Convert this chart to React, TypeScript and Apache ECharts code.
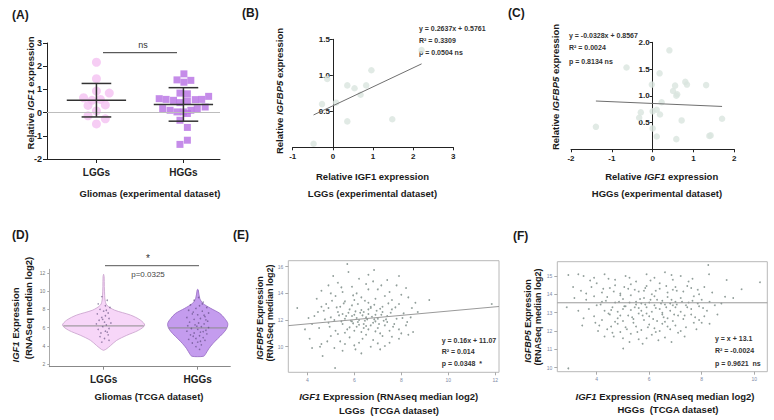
import React, { useEffect, useRef } from 'react';
import * as echarts from 'echarts';

const FONT = '"Liberation Sans", Arial, Helvetica, sans-serif';

// ---------- Panel A: Relative IGF1 expression (experimental dataset) ----------
const groupsA = ['LGGs', 'HGGs'];
const posA = [1, 2.76];
// [horizontal jitter, value]
const lggA: number[][] = [
  [0, 2.17], [0, 1.46], [0, 0.93], [0.26, 0.84], [-0.26, 0.64], [-0.09, 0.53], [0.08, 0.57],
  [-0.17, 0.31], [0.18, 0.33], [0, 0.07], [-0.17, -0.14], [0.18, -0.27], [0, -0.49],
];
const hggA: number[][] = [
  [0.01, 1.67], [-0.13, 1.41], [0.01, 1.31], [0.15, 1.39], [-0.07, 0.84], [0.08, 0.81],
  [-0.49, 0.6], [-0.35, 0.57], [-0.2, 0.53], [-0.07, 0.43], [0.08, 0.5], [0.24, 0.56],
  [0.37, 0.57], [0.51, 0.7], [-0.42, 0.17], [-0.27, 0.1], [-0.13, 0.03], [0, 0.03],
  [0.15, 0.1], [0.28, 0.17], [0.44, 0.24], [-0.07, -0.33], [0.08, -0.04], [0.08, -0.64],
  [0.08, -1.19], [-0.07, -1.37],
];

// ---------- Panel B: LGGs IGF1 vs IGFBP5 ----------
const bPoints: number[][] = [
  [2.21, 1.35], [0.96, 1.07], [-0.14, 0.95], [0.36, 0.86], [0.54, 0.82], [0.83, 0.86],
  [0.69, 0.73], [-0.27, 0.6], [0.08, 0.62], [0.36, 0.36], [1.48, 0.39], [-0.48, 0.05],
];
const bFit = [0.2637, 0.5761];
const bStats = ['y = 0.2637x + 0.5761', 'R² = 0.3309', 'p = 0.0504 ns'];
const bXRange = [-1, 3];

// ---------- Panel C: HGGs IGF1 vs IGFBP5 ----------
const cPoints: number[][] = [
  [0.41, 1.85], [-0.64, 1.53], [0.17, 1.42], [-0.02, 1.21], [0.55, 1.19], [0.8, 1.26],
  [0.84, 1.21], [1.31, 1.2], [0.5, 1.09], [0.6, 1.03], [0.58, 1.0], [0.22, 0.88],
  [0.1, 0.74], [0, 0.71], [-0.29, 0.69], [0.18, 0.65], [-0.33, 0.59], [0.71, 0.54],
  [1.7, 0.57], [-1.39, 0.42], [0, 0.39], [1.42, 0.26], [1.39, 0.25], [0.1, 0.24], [0.58, 0.19],
];
const cFit = [-0.0328, 0.8567];
const cStats = ['y = -0.0328x + 0.8567', 'R² = 0.0024', 'p = 0.8134 ns'];
const cXRange = [-2, 2];

// ---------- Panel D: violins (TCGA) ----------
const groupsD = ['LGGs', 'HGGs'];
const posD = [3, 8.2];
const medianD = [6.18, 5.96];
// [value, half width in x units]
const lggProfile: number[][] = [
  [11.85, 0], [11.6, 0.03], [10.5, 0.04], [9.5, 0.06], [9.03, 0.08], [8.48, 0.17], [7.92, 0.6],
  [7.37, 1.49], [6.81, 2.04], [6.26, 2.27], [5.7, 1.93], [5.14, 1.27], [4.59, 0.72],
  [4.03, 0.39], [3.6, 0.12], [3.5, 0],
];
const hggProfile: number[][] = [
  [10.2, 0], [10.14, 0.03], [9.22, 0.11], [8.67, 0.28], [8.11, 0.72], [7.56, 1.22], [7.0, 1.49],
  [6.44, 1.66], [5.89, 1.6], [5.33, 1.38], [4.78, 1.1], [4.22, 0.83], [3.67, 0.61],
  [3.11, 0.44], [2.85, 0.33], [2.8, 0],
];
const lggJitterD: number[][] = [
  [-0.1, 9.4], [0.2, 9.0], [-0.3, 8.6], [0.1, 8.4], [0.35, 8.2], [-0.2, 8.0], [0, 7.8],
  [0.25, 7.6], [-0.35, 7.5], [0.1, 7.3], [-0.1, 7.1], [0.3, 7.0], [-0.25, 6.8], [0.05, 6.6],
  [0.4, 6.5], [-0.4, 6.4], [0.15, 6.3], [-0.05, 6.1], [0.3, 5.9], [-0.3, 5.8], [0.1, 5.6],
  [-0.15, 5.4], [0.25, 5.2], [-0.2, 5.0], [0.05, 4.8], [0.3, 4.6], [-0.1, 4.4], [0.15, 7.9],
  [-0.05, 6.9], [0.2, 5.5],
];
const hggJitterD: number[][] = [
  [0.05, 9.3], [-0.2, 9.0], [0.3, 8.8], [-0.4, 8.5], [0.1, 8.4], [0.5, 8.2], [-0.1, 8.1],
  [-0.5, 7.9], [0.25, 7.8], [0.6, 7.6], [-0.3, 7.5], [0, 7.4], [0.4, 7.2], [-0.6, 7.1],
  [0.15, 7.0], [-0.2, 6.9], [0.55, 6.7], [-0.45, 6.6], [0.05, 6.5], [0.35, 6.4], [-0.15, 6.3],
  [-0.55, 6.2], [0.2, 6.1], [0.6, 6.0], [-0.35, 5.9], [0, 5.8], [0.45, 5.7], [-0.6, 5.6],
  [0.15, 5.5], [-0.2, 5.4], [0.5, 5.3], [-0.4, 5.2], [0.1, 5.1], [0.3, 4.9], [-0.1, 4.8],
  [-0.5, 4.7], [0.4, 4.6], [0, 4.4], [-0.3, 4.3], [0.2, 4.1], [-0.1, 3.9], [0.1, 3.6],
  [0.25, 8.6], [-0.25, 7.7], [0.45, 6.85], [-0.05, 6.15], [0.3, 5.55], [-0.25, 5.05],
  [0.15, 4.5], [0.35, 7.35],
];
const dTicks = [2, 4, 6, 8, 10, 12];

// ---------- Panel E: LGGs TCGA scatter ----------
const ePoints: number[][] = [
  [5.7, 16.2], [6.84, 15.75], [5.1, 15.3], [6.2, 15.1], [7.4, 15.0], [4.9, 14.6],
  [5.3, 14.8], [5.9, 14.5], [6.5, 14.7], [7.0, 14.3], [7.8, 14.6], [4.6, 14.2], [5.5, 14.1],
  [6.1, 14.0], [6.8, 14.9], [7.5, 14.1], [8.2, 14.4], [5.0, 14.0],
  [4.4, 13.6], [4.8, 13.2], [5.2, 13.8], [5.6, 13.4], [5.9, 13.1], [6.3, 13.7], [6.6, 13.3],
  [6.9, 13.6], [7.2, 13.0], [7.6, 13.5], [7.9, 13.2], [8.3, 13.7], [8.6, 13.3], [5.4, 13.0],
  [6.0, 13.5], [6.7, 13.0], [7.3, 13.8], [3.57, 12.9], [9.19, 13.5], [11.85, 13.2],
  [5.05, 13.45], [8.0, 13.9],
  [4.3, 12.3], [4.7, 12.7], [5.0, 12.2], [5.3, 12.6], [5.6, 12.1], [5.8, 12.8], [6.0, 12.4],
  [6.2, 12.0], [6.4, 12.6], [6.5, 12.2], [6.7, 12.9], [6.9, 12.4], [7.0, 12.1], [7.2, 12.6],
  [7.4, 12.3], [7.6, 12.8], [7.8, 12.1], [8.1, 12.5], [8.4, 12.2], [5.9, 12.3], [6.3, 12.75],
  [6.6, 12.45], [7.1, 12.85], [5.5, 12.45], [6.1, 12.15], [8.7, 12.6], [4.9, 12.9],
  [4.5, 11.4], [4.9, 11.8], [5.2, 11.2], [5.5, 11.7], [5.7, 11.3], [5.9, 11.9], [6.1, 11.5],
  [6.3, 11.1], [6.4, 11.7], [6.6, 11.3], [6.8, 11.8], [7.0, 11.4], [7.1, 11.0], [7.3, 11.6],
  [7.5, 11.2], [7.7, 11.7], [7.9, 11.3], [8.2, 11.6], [6.0, 11.2], [6.5, 11.55], [6.9, 11.15],
  [5.6, 11.05], [7.4, 11.85], [8.5, 11.1], [4.2, 11.7],
  [4.1, 10.6], [4.6, 10.2], [5.0, 10.8], [5.4, 10.4], [5.8, 10.7], [6.2, 10.3], [6.5, 10.9],
  [6.8, 10.5], [7.2, 10.8], [7.5, 10.3], [7.9, 10.6], [8.3, 10.9], [5.3, 10.95], [6.0, 10.1],
  [7.0, 10.25], [4.54, 10.0],
  [4.65, 9.3], [5.5, 9.7], [6.3, 9.5], [7.1, 9.8], [5.18, 8.4], [4.2, 9.9],
  [5.75, 12.55], [6.05, 12.65], [6.35, 12.35], [6.55, 12.05], [6.75, 12.25], [6.95, 12.7],
  [7.15, 12.4], [5.85, 11.95], [6.15, 11.85], [6.45, 11.95], [6.7, 11.6], [6.85, 12.05],
  [7.25, 11.95], [5.65, 12.3], [5.95, 11.75], [6.25, 12.55], [6.6, 12.8], [7.05, 11.7],
  [7.35, 12.05], [5.45, 11.9], [5.35, 12.35], [6.4, 11.4], [6.9, 11.9], [6.2, 11.65],
  [5.8, 11.45], [7.55, 12.55], [7.65, 11.5], [5.15, 12.0], [4.95, 11.5], [4.75, 12.05],
  [5.25, 12.95], [5.55, 13.25], [6.15, 13.2], [6.45, 13.45], [6.85, 13.15], [7.45, 13.25],
  [7.75, 12.95], [8.05, 12.15], [8.25, 11.85], [4.45, 12.6], [4.6, 13.0], [5.95, 13.85],
  [6.6, 14.3], [7.15, 14.6], [5.45, 14.45], [4.85, 10.4], [5.6, 10.2], [6.7, 10.0],
  [7.6, 10.75], [8.0, 11.0], [6.35, 10.6], [5.15, 9.9], [6.05, 9.8], [7.3, 10.05],
  [8.45, 12.9], [4.05, 12.15], [3.9, 11.3], [5.75, 15.6], [6.6, 15.4], [7.9, 15.3],
];
const eFit = [0.16, 11.07];
const eStats = ['y = 0.16x + 11.07', 'R² = 0.014', 'p = 0.0348  *'];
const eXTicks = [4, 6, 8, 10, 12];
const eYTicks = [10, 12, 14, 16];

// ---------- Panel F: HGGs TCGA scatter ----------
const fPoints: number[][] = [
  [8.25, 15.6], [8.28, 15.1], [2.92, 15.05], [2.86, 13.3], [5.01, 11.05], [2.92, 9.96],
  [10.22, 14.66], [9.52, 14.28], [8.95, 14.78], [9.2, 13.8], [8.89, 13.87], [3.1, 14.4],
  [3.3, 13.1], [3.5, 12.7],
  [3.5, 15.0], [3.9, 14.9], [4.3, 15.1], [4.7, 14.8], [5.1, 15.0], [5.5, 14.7], [5.9, 15.1],
  [6.2, 14.9], [6.6, 15.2], [6.9, 14.8], [7.2, 15.0], [4.0, 14.6], [5.3, 14.55], [6.4, 14.6],
  [7.5, 14.7],
  [3.4, 14.2], [3.8, 14.4], [4.2, 14.1], [4.5, 14.35], [4.9, 14.05], [5.2, 14.3], [5.6, 14.15],
  [5.9, 14.45], [6.1, 14.0], [6.4, 14.3], [6.7, 14.1], [7.0, 14.4], [7.3, 14.15], [7.6, 14.35],
  [7.9, 14.0], [4.7, 14.5], [5.8, 14.2], [6.9, 14.25], [8.1, 14.4],
  [3.6, 13.7], [3.9, 13.9], [4.2, 13.6], [4.4, 13.85], [4.7, 13.55], [5.0, 13.75], [5.3, 13.95],
  [5.5, 13.6], [5.8, 13.8], [6.0, 13.55], [6.2, 13.9], [6.5, 13.65], [6.7, 13.85], [7.0, 13.6],
  [7.2, 13.8], [7.5, 13.55], [7.7, 13.9], [8.0, 13.7], [8.3, 13.6], [4.9, 13.95], [6.3, 13.7],
  [6.8, 13.5], [5.7, 13.5],
  [3.7, 13.2], [4.0, 13.4], [4.3, 13.1], [4.6, 13.3], [4.8, 13.05], [5.1, 13.35], [5.3, 13.15],
  [5.5, 13.45], [5.7, 13.1], [5.9, 13.3], [6.1, 13.05], [6.2, 13.4], [6.4, 13.2], [6.6, 13.45],
  [6.8, 13.1], [7.0, 13.3], [7.2, 13.05], [7.4, 13.4], [7.6, 13.2], [7.9, 13.35], [8.2, 13.1],
  [8.5, 13.4], [5.6, 13.25], [6.5, 13.0], [6.9, 13.4], [5.0, 13.2],
  [3.9, 12.8], [4.2, 12.6], [4.5, 12.9], [4.8, 12.7], [5.0, 12.55], [5.2, 12.85], [5.4, 12.65],
  [5.6, 12.95], [5.8, 12.6], [6.0, 12.8], [6.3, 12.55], [6.5, 12.9], [6.7, 12.7], [6.9, 12.55],
  [7.1, 12.85], [7.3, 12.65], [7.6, 12.9], [7.9, 12.6], [8.1, 12.8], [5.9, 12.95], [6.6, 12.5],
  [4.7, 12.5],
  [4.1, 12.3], [4.4, 12.1], [4.8, 12.4], [5.1, 12.2], [5.4, 12.45], [5.7, 12.05], [6.0, 12.35],
  [6.2, 12.15], [6.5, 12.4], [6.8, 12.1], [7.0, 12.3], [7.4, 12.2], [7.7, 12.45], [5.5, 12.25],
  [6.4, 12.0],
  [4.3, 11.7], [4.6, 11.9], [5.0, 11.6], [5.3, 11.85], [5.6, 11.55], [6.1, 11.8], [6.6, 11.65],
  [7.1, 11.9], [4.9, 11.95], [5.9, 11.6],
  [4.15, 13.45], [4.35, 13.65], [4.55, 13.15], [4.85, 13.6], [5.05, 13.35], [5.25, 13.55],
  [5.45, 13.3], [5.65, 13.75], [5.85, 13.45], [6.05, 13.7], [6.25, 13.25], [6.45, 13.5],
  [6.65, 13.3], [6.85, 13.7], [7.05, 13.45], [7.25, 13.6], [7.45, 13.3], [7.65, 13.65],
  [7.85, 13.5], [8.05, 13.25], [4.45, 12.95], [4.9, 12.85], [5.35, 12.75], [5.75, 12.85],
  [6.15, 12.65], [6.55, 12.75], [6.95, 12.9], [7.35, 12.85], [7.75, 12.75], [4.25, 14.3],
  [4.65, 14.15], [5.05, 14.4], [5.45, 14.25], [5.85, 14.35], [6.25, 14.2], [6.65, 14.45],
  [7.05, 14.2], [7.45, 14.45], [7.85, 14.25], [3.75, 14.75], [4.45, 14.85], [5.25, 14.9],
  [6.05, 14.75], [6.85, 15.05], [7.65, 14.85], [3.3, 15.1], [3.15, 13.8], [3.45, 12.3],
  [4.05, 12.0], [4.65, 11.7], [5.25, 11.4], [5.75, 11.3], [6.35, 11.5], [6.85, 11.4],
  [7.35, 11.7], [7.8, 12.1], [8.3, 12.4], [8.6, 12.9], [8.75, 13.5], [8.4, 14.1],
  [3.95, 12.45], [5.15, 12.1], [6.7, 12.25], [7.2, 12.0], [5.95, 12.2], [4.55, 12.25],
  [5.55, 11.95], [6.25, 11.95], [8.0, 12.45], [3.6, 14.05],
];
const fLevel = 13.54;
const fStats = ['y = x + 13.1', 'R² = -0.0024', 'p = 0.9621  ns'];
const fXTicks = [4, 6, 8, 10];
const fYTicks = [10, 11, 12, 13, 14, 15];

// ---------- helpers ----------
const mean = (a: number[]) => a.reduce((s, v) => s + v, 0) / a.length;
const sd = (a: number[]) => {
  const m = mean(a);
  return Math.sqrt(a.reduce((s, v) => s + (v - m) * (v - m), 0) / (a.length - 1));
};
const fitLine = (pts: number[][], f: number[]) => {
  const xs = pts.map((p) => p[0]);
  const x0 = Math.min(...xs);
  const x1 = Math.max(...xs);
  return [[x0, f[0] * x0 + f[1]], [x1, f[0] * x1 + f[1]]];
};

function txt(x: number, y: number, text: string, size: number, o: any = {}) {
  const weight = o.weight || 'bold';
  const fill = o.color || '#1a1a1a';
  return {
    type: 'text',
    x,
    y,
    rotation: o.rot || 0,
    silent: true,
    style: {
      text,
      fontSize: size,
      fontFamily: FONT,
      fontWeight: weight,
      fill,
      align: o.align || 'center',
      verticalAlign: 'middle',
      rich: {
        i: { fontStyle: 'italic', fontSize: size, fontFamily: FONT, fontWeight: weight, fill },
      },
    },
  };
}
function hline(x1: number, x2: number, y: number, color: string) {
  return { type: 'line', silent: true, shape: { x1, y1: y, x2, y2: y }, style: { stroke: color, lineWidth: 1 } };
}

const R90 = Math.PI / 2;

export default function App() {
  const ref = useRef<HTMLDivElement>(null);
  useEffect(() => {
    if (!ref.current) return;
    const chart = echarts.init(ref.current, null, { renderer: 'svg' });

    const blackAxis = { lineStyle: { color: '#222', width: 1 } };
    const boldLbl = { fontFamily: FONT, fontWeight: 'bold', color: '#222' };
    const tinyLbl = { fontFamily: FONT, fontSize: 5, color: '#7d89a6' };

    const gridBox = { show: true, borderColor: '#b8b8b8', borderWidth: 1, backgroundColor: 'transparent' };

    const gridB = { left: 292.7, top: 39.3, width: 160.6, height: 108 };
    const gridC = { left: 571, top: 42.3, width: 163.3, height: 107 };
    // place the y axis on x = 0 (GraphPad-style crossing axes)
    const zeroOffset = (g: { width: number }, r: number[]) => -((0 - r[0]) / (r[1] - r[0])) * g.width;

    const nearest = (arr: number[], names: string[]) => (v: number) => {
      let bi = 0;
      arr.forEach((p, i) => { if (Math.abs(p - v) < Math.abs(arr[bi] - v)) bi = i; });
      return names[bi];
    };

    const meanSd = [
      [posA[0], mean(lggA.map((p) => p[1])), sd(lggA.map((p) => p[1]))],
      [posA[1], mean(hggA.map((p) => p[1])), sd(hggA.map((p) => p[1]))],
    ];

    const profiles = [lggProfile, hggProfile];
    const violinStyle = [
      { fill: '#f7d6f8', stroke: '#c79fca' },
      { fill: '#c49cee', stroke: '#9468c2' },
    ];
    const widthAt = (prof: number[][], v: number) => {
      for (let i = 0; i < prof.length - 1; i++) {
        const a = prof[i], b = prof[i + 1];
        if ((v <= a[0] && v >= b[0])) {
          const t = (a[0] - v) / (a[0] - b[0]);
          return a[1] + t * (b[1] - a[1]);
        }
      }
      return 0;
    };

    const option: any = {
      animation: false,
      backgroundColor: '#ffffff',
      grid: [
        { left: 47, top: 43, width: 173, height: 116, outerBoundsMode: 'none' },
        { ...gridB, outerBoundsMode: 'none' },
        { ...gridC, outerBoundsMode: 'none' },
        { left: 49.3, top: 269.3, width: 181, height: 97.4, outerBoundsMode: 'none' },
        { left: 288.3, top: 260.7, width: 210.7, height: 111.6, outerBoundsMode: 'none', ...gridBox },
        { left: 557.3, top: 261.7, width: 210, height: 110, outerBoundsMode: 'none', ...gridBox },
      ],
      xAxis: [
        {
          gridIndex: 0, type: 'value', min: 0, max: 3.5,
          axisLine: { show: true, onZero: false, ...blackAxis },
          axisTick: { show: true, customValues: posA, length: 4, ...blackAxis },
          axisLabel: { customValues: posA, formatter: nearest(posA, groupsA), fontSize: 10, margin: 8, ...boldLbl },
          splitLine: { show: false },
        },
        {
          gridIndex: 1, type: 'value', min: bXRange[0], max: bXRange[1], interval: 1,
          axisLine: { show: true, onZero: false, ...blackAxis },
          axisTick: { show: true, length: 3, ...blackAxis },
          axisLabel: { fontSize: 8, margin: 5, ...boldLbl },
          splitLine: { show: false },
        },
        {
          gridIndex: 2, type: 'value', min: cXRange[0], max: cXRange[1], interval: 1,
          axisLine: { show: true, onZero: false, ...blackAxis },
          axisTick: { show: true, length: 3, ...blackAxis },
          axisLabel: { fontSize: 8, margin: 5, ...boldLbl },
          splitLine: { show: false },
        },
        {
          gridIndex: 3, type: 'value', min: 0, max: 10,
          axisLine: { show: true, onZero: false, lineStyle: { color: '#888', width: 1 } },
          axisTick: { show: true, customValues: posD, length: 3, lineStyle: { color: '#888' } },
          axisLabel: { customValues: posD, formatter: nearest(posD, groupsD), fontSize: 10, margin: 8, ...boldLbl },
          splitLine: { show: false },
        },
        {
          gridIndex: 4, type: 'value', min: 3.19, max: 12.16,
          axisLine: { show: false, onZero: false },
          axisTick: { show: true, customValues: eXTicks, length: 3, lineStyle: { color: '#aaa' } },
          axisLabel: { customValues: eXTicks, margin: 5, ...tinyLbl },
          splitLine: { show: false },
        },
        {
          gridIndex: 5, type: 'value', min: 2.5, max: 10.5,
          axisLine: { show: false, onZero: false },
          axisTick: { show: true, customValues: fXTicks, length: 3, lineStyle: { color: '#aaa' } },
          axisLabel: { customValues: fXTicks, margin: 5, ...tinyLbl },
          splitLine: { show: false },
        },
      ],
      yAxis: [
        {
          gridIndex: 0, type: 'value', min: -2, max: 3, interval: 1,
          axisLine: { show: true, onZero: false, ...blackAxis },
          axisTick: { show: true, length: 4, ...blackAxis },
          axisLabel: { fontSize: 9, margin: 5, ...boldLbl },
          splitLine: { show: false },
        },
        {
          gridIndex: 1, type: 'value', min: 0, max: 1.5, interval: 0.5,
          offset: zeroOffset(gridB, bXRange),
          axisLine: { show: true, onZero: false, ...blackAxis },
          axisTick: { show: true, length: 3, ...blackAxis },
          axisLabel: { fontSize: 8, margin: 3, formatter: (v: number) => (v === 0 ? '' : v.toFixed(1)), ...boldLbl },
          splitLine: { show: false },
        },
        {
          gridIndex: 2, type: 'value', min: 0, max: 2, interval: 0.5,
          offset: zeroOffset(gridC, cXRange),
          axisLine: { show: true, onZero: false, ...blackAxis },
          axisTick: { show: true, length: 3, ...blackAxis },
          axisLabel: { fontSize: 8, margin: 3, formatter: (v: number) => (v === 0 ? '' : v.toFixed(1)), ...boldLbl },
          splitLine: { show: false },
        },
        {
          gridIndex: 3, type: 'value', min: 1.7, max: 12.4,
          axisLine: { show: true, onZero: false, lineStyle: { color: '#aaa', width: 1 } },
          axisTick: { show: true, customValues: dTicks, length: 2, lineStyle: { color: '#aaa' } },
          axisLabel: { customValues: dTicks, margin: 4, fontFamily: FONT, fontSize: 5, color: '#777' },
          splitLine: { show: false },
        },
        {
          gridIndex: 4, type: 'value', min: 8.08, max: 16.45,
          axisLine: { show: false, onZero: false },
          axisTick: { show: true, customValues: eYTicks, length: 3, lineStyle: { color: '#aaa' } },
          axisLabel: { customValues: eYTicks, margin: 5, ...tinyLbl },
          splitLine: { show: false },
        },
        {
          gridIndex: 5, type: 'value', min: 9.78, max: 15.78,
          axisLine: { show: false, onZero: false },
          axisTick: { show: true, customValues: fYTicks, length: 3, lineStyle: { color: '#aaa' } },
          axisLabel: { customValues: fYTicks, margin: 5, ...tinyLbl },
          splitLine: { show: false },
        },
      ],
      series: [
        // Panel A
        {
          type: 'scatter', xAxisIndex: 0, yAxisIndex: 0, symbol: 'circle', symbolSize: 9,
          itemStyle: { color: '#f4c1f1' }, silent: true, z: 3,
          data: lggA.map((p) => [posA[0] + p[0], p[1]]),
          markLine: {
            silent: true, symbol: 'none', label: { show: false },
            lineStyle: { color: '#bdbdbd', width: 1, type: 'solid' },
            data: [{ yAxis: 0 }],
          },
        },
        {
          type: 'scatter', xAxisIndex: 0, yAxisIndex: 0, symbol: 'rect', symbolSize: 7,
          itemStyle: { color: '#b66fe3' }, silent: true, z: 3,
          data: hggA.map((p) => [posA[1] + p[0], p[1]]),
        },
        {
          type: 'custom', xAxisIndex: 0, yAxisIndex: 0, silent: true, z: 5,
          data: meanSd,
          renderItem: (_params: any, api: any) => {
            const pos = api.value(0), m = api.value(1), s = api.value(2);
            const a = api.coord([pos - 0.6, m]), b = api.coord([pos + 0.6, m]);
            const t = api.coord([pos, m + s]), u = api.coord([pos, m - s]);
            const tl = api.coord([pos - 0.3, m + s]), tr = api.coord([pos + 0.3, m + s]);
            const bl = api.coord([pos - 0.3, m - s]), br = api.coord([pos + 0.3, m - s]);
            const st = { stroke: '#333', lineWidth: 1.5 };
            return {
              type: 'group',
              children: [
                { type: 'line', shape: { x1: a[0], y1: a[1], x2: b[0], y2: b[1] }, style: st },
                { type: 'line', shape: { x1: t[0], y1: t[1], x2: u[0], y2: u[1] }, style: st },
                { type: 'line', shape: { x1: tl[0], y1: tl[1], x2: tr[0], y2: tr[1] }, style: st },
                { type: 'line', shape: { x1: bl[0], y1: bl[1], x2: br[0], y2: br[1] }, style: st },
              ],
            };
          },
        },
        // Panel B
        {
          type: 'scatter', xAxisIndex: 1, yAxisIndex: 1, symbolSize: 6.5, silent: true,
          itemStyle: { color: '#d9e5df' }, data: bPoints,
        },
        {
          type: 'line', xAxisIndex: 1, yAxisIndex: 1, showSymbol: false, silent: true,
          lineStyle: { color: '#6f6f6f', width: 1 }, data: fitLine(bPoints, bFit),
        },
        // Panel C
        {
          type: 'scatter', xAxisIndex: 2, yAxisIndex: 2, symbolSize: 6.5, silent: true,
          itemStyle: { color: '#d9e5df' }, data: cPoints,
        },
        {
          type: 'line', xAxisIndex: 2, yAxisIndex: 2, showSymbol: false, silent: true,
          lineStyle: { color: '#6f6f6f', width: 1 }, data: fitLine(cPoints, cFit),
        },
        // Panel D violins
        {
          type: 'custom', xAxisIndex: 3, yAxisIndex: 3, silent: true, z: 2,
          data: posD.map((p, i) => [p, medianD[i]]),
          renderItem: (params: any, api: any) => {
            const i = params.dataIndex;
            const prof = profiles[i];
            const pos = api.value(0), med = api.value(1);
            const left = prof.map((q) => api.coord([pos - q[1], q[0]]));
            const right = prof.slice().reverse().map((q) => api.coord([pos + q[1], q[0]]));
            const hw = widthAt(prof, med);
            const m1 = api.coord([pos - hw, med]), m2 = api.coord([pos + hw, med]);
            return {
              type: 'group',
              children: [
                { type: 'polygon', shape: { points: left.concat(right), smooth: 0.3 }, style: { fill: violinStyle[i].fill, stroke: violinStyle[i].stroke, lineWidth: 0.8 } },
                { type: 'line', shape: { x1: m1[0], y1: m1[1], x2: m2[0], y2: m2[1] }, style: { stroke: '#8c8c8c', lineWidth: 1 } },
              ],
            };
          },
        },
        {
          type: 'scatter', xAxisIndex: 3, yAxisIndex: 3, symbolSize: 1.6, silent: true, z: 3,
          itemStyle: { color: '#4a3a6c', opacity: 0.55 },
          data: lggJitterD.map((p) => [posD[0] + p[0], p[1]]).concat(hggJitterD.map((p) => [posD[1] + p[0], p[1]])),
        },
        // Panel E
        {
          type: 'scatter', xAxisIndex: 4, yAxisIndex: 4, symbolSize: 1.8, silent: true,
          itemStyle: { color: '#7e8d88', opacity: 0.85 }, data: ePoints,
        },
        {
          type: 'line', xAxisIndex: 4, yAxisIndex: 4, showSymbol: false, silent: true,
          lineStyle: { color: '#9a9a9a', width: 1 },
          data: [[3.19, eFit[0] * 3.19 + eFit[1]], [12.16, eFit[0] * 12.16 + eFit[1]]],
        },
        // Panel F
        {
          type: 'scatter', xAxisIndex: 5, yAxisIndex: 5, symbolSize: 1.8, silent: true,
          itemStyle: { color: '#7e8d88', opacity: 0.85 }, data: fPoints,
        },
        {
          type: 'line', xAxisIndex: 5, yAxisIndex: 5, showSymbol: false, silent: true,
          lineStyle: { color: '#9a9a9a', width: 1 },
          data: [[2.5, fLevel], [10.5, fLevel]],
        },
      ],
      graphic: [
        // panel labels
        txt(12, 15, '(A)', 12, { align: 'left' }),
        txt(242, 13, '(B)', 12, { align: 'left' }),
        txt(508, 13, '(C)', 12, { align: 'left' }),
        txt(12, 235, '(D)', 12, { align: 'left' }),
        txt(233, 235, '(E)', 12, { align: 'left' }),
        txt(513, 236, '(F)', 12, { align: 'left' }),
        // A
        txt(30, 93, 'Relative {i|IGF1} expression', 9.5, { rot: R90 }),
        hline(103, 177, 52.7, '#333'),
        txt(143, 45, 'ns', 9, { weight: 'normal', color: '#333' }),
        txt(150, 193, 'Gliomas (experimental dataset)', 9.5),
        // B
        txt(279, 91, 'Relative {i|IGFBP5} expression', 9.5, { rot: R90 }),
        txt(372.5, 176, 'Relative IGF1 expression', 9.5),
        txt(372.5, 193, 'LGGs (experimental dataset)', 9.5),
        txt(419, 28, bStats[0], 7, { align: 'left', color: '#333' }),
        txt(419, 40, bStats[1], 7, { align: 'left', color: '#333' }),
        txt(419, 52, bStats[2], 7, { align: 'left', color: '#333' }),
        // C
        txt(555, 87, 'Relative {i|IGFBP5} expression', 9.5, { rot: R90 }),
        txt(661.7, 176, 'Relative {i|IGF1} expression', 9.5),
        txt(657, 193, 'HGGs (experimental dataset)', 9.5),
        txt(569, 35, cStats[0], 7, { align: 'left', color: '#333' }),
        txt(569, 47.7, cStats[1], 7, { align: 'left', color: '#333' }),
        txt(569, 61, cStats[2], 7, { align: 'left', color: '#333' }),
        // D
        txt(15, 325, '{i|IGF1} Expression', 9.5, { rot: R90 }),
        txt(28, 308, '(RNASeq median log2)', 9.5, { rot: R90 }),
        hline(105, 199, 265.7, '#555'),
        txt(148, 258, '*', 10, { weight: 'normal', color: '#333' }),
        txt(148, 274, 'p=0.0325', 8, { weight: 'normal', color: '#444' }),
        txt(149, 396.7, 'Gliomas (TCGA dataset)', 9.5),
        // E
        txt(260, 318, '{i|IGFBP5} Expression', 9, { rot: R90 }),
        txt(270, 313, '(RNASeq median log2)', 9, { rot: R90 }),
        txt(388.7, 396, '{i|IGF1} Expression (RNAseq median log2)', 9.5),
        txt(389, 410, 'LGGs  (TCGA dataset)', 9.5),
        txt(441.7, 340, eStats[0], 7, { align: 'left', color: '#333' }),
        txt(441.7, 351.7, eStats[1], 7, { align: 'left', color: '#333' }),
        txt(441.7, 363.3, eStats[2], 7, { align: 'left', color: '#333' }),
        // F
        txt(528, 321, '{i|IGFBP5} Expression', 9, { rot: R90 }),
        txt(538, 317, '(RNASeq median log2)', 9, { rot: R90 }),
        txt(665, 396.7, '{i|IGF1} Expression (RNAseq median log2)', 9.5),
        txt(668, 409.3, 'HGGs  (TCGA dataset)', 9.5),
        txt(715, 338.3, fStats[0], 7, { align: 'left', color: '#333' }),
        txt(715, 350.7, fStats[1], 7, { align: 'left', color: '#333' }),
        txt(715, 363.3, fStats[2], 7, { align: 'left', color: '#333' }),
      ],
    };
    chart.setOption(option);
    return () => chart.dispose();
  }, []);
  return (
    <div
      ref={ref}
      style={{ position: 'fixed', left: 0, top: 0, width: 774, height: 420, background: '#fff' }}
    />
  );
}
